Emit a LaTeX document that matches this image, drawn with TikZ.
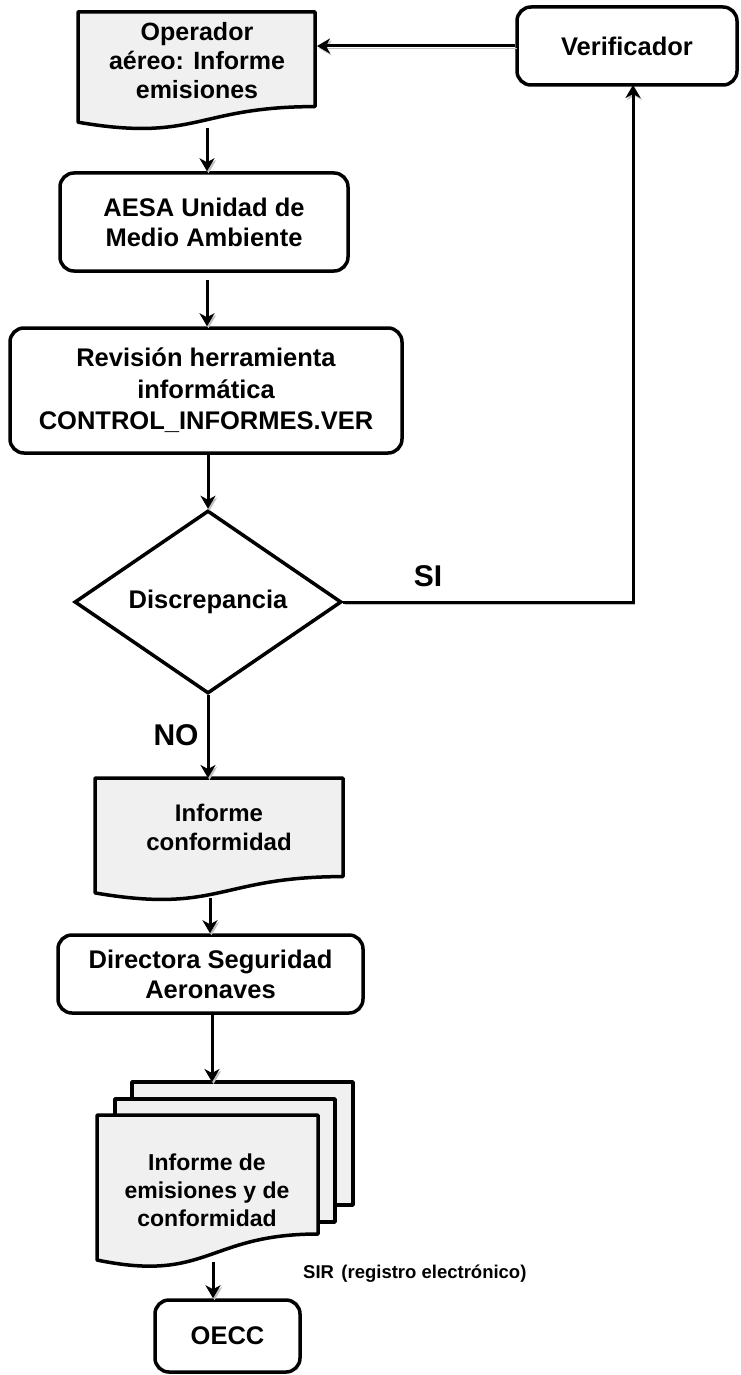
\documentclass[tikz,border=0pt]{standalone}
\usepackage{fontspec}
\setmainfont{Liberation Sans}
\usetikzlibrary{shapes.geometric,arrows.meta}
\definecolor{docgray}{RGB}{240,240,240}
\begin{document}
\begin{tikzpicture}[x=1pt,y=-1pt,
  box/.style={draw, line width=3.5pt, rounded corners=14pt, align=center, inner sep=0pt, font=\bfseries\fontsize{25.5}{30}\selectfont},
  docshape/.style={draw, line width=3.5pt, fill=docgray, line join=round},
  txt/.style={align=center, inner sep=0pt, font=\bfseries\fontsize{25}{29}\selectfont},
  lbl/.style={inner sep=0pt, font=\bfseries\fontsize{30}{30}\selectfont},
  arr/.style={line width=3pt, -{Stealth[length=13pt,width=15pt,inset=4pt]},
    preaction={draw=black!25, transform canvas={shift={(1.5pt,-2pt)}}}}]
\useasboundingbox (0,0) rectangle (741,1375);

% Operador aereo document
\draw[docshape] (78,12) -- (315,12) -- (315,106.6) .. controls (196.5,106.6) and (196.5,142.6) .. (78,122.2) -- cycle;
\node[txt] (op) at (197,61) {Operador\\aéreo: Informe\\emisiones};
\coordinate (opB) at (207,128);
\coordinate (opR) at (317,46);

% Verificador
\node[box, minimum width=220pt, minimum height=78pt] (ver) at (627,46) {Verificador};
\coordinate (verB) at (633,85);

% AESA
\node[box, minimum width=288pt, minimum height=98pt] (aesa) at (204,222) {AESA Unidad de\\Medio Ambiente};
\coordinate (aesaB) at (207,280);

% Revision
\node[box, minimum width=392pt, minimum height=125pt, font=\bfseries\fontsize{25.5}{31.5}\selectfont] (rev) at (206,390.5) {Revisión herramienta\\informática\\CONTROL\_INFORMES.VER};

% Discrepancia
\node[draw, diamond, line width=3.5pt, minimum width=267pt, minimum height=183pt, inner sep=0pt, font=\bfseries\fontsize{25.5}{30}\selectfont] (disc) at (208,602) {Discrepancia};

% Informe conformidad document
\draw[docshape] (95,778) -- (343,778) -- (343,876.6) .. controls (219,876.6) and (219,914.2) .. (95,892.9) -- cycle;
\node[txt, font=\bfseries\fontsize{24}{29}\selectfont] (ic) at (219,827) {Informe\\conformidad};
\coordinate (icT) at (208,778);
\coordinate (icB) at (210,898);

% Directora
\node[box, minimum width=305pt, minimum height=78pt] (dir) at (210.5,974) {Directora Seguridad\\Aeronaves};

% Multi-document
\draw[docshape] (132,1082) rectangle (353,1205);
\draw[docshape] (115,1099) rectangle (335,1222);
\draw[docshape] (97,1115) -- (318,1115) -- (318,1234) .. controls (207.5,1234) and (207.5,1283) .. (97,1260) -- cycle;
\node[txt, font=\bfseries\fontsize{23}{28}\selectfont] (multi) at (207,1190) {Informe de\\emisiones y de\\conformidad};
\coordinate (mT) at (212,1082);
\coordinate (mB) at (213,1262);

% OECC
\node[box, minimum width=145pt, minimum height=72pt] (oecc) at (227.5,1336) {OECC};

% connectors
\draw[arr] (ver.west) -- (opR);
\draw[arr] (opB) -- (aesa.north -| opB);
\draw[arr] (aesaB) -- (rev.north -| aesaB);
\draw[arr] (rev.south -| disc.north) -- (disc.north);
\draw[arr] (disc.south) -- (icT);
\draw[arr] (disc.east) -| (verB);
\draw[arr] (icB) -- (dir.north -| icB);
\draw[arr] (dir.south -| mT) -- (mT);
\draw[arr] (mB) -- (oecc.north -| mB);

% labels
\node[lbl] (si) at (428,576) {SI};
\node[lbl] (no) at (176,735) {NO};
\node[anchor=west, inner sep=0pt, font=\bfseries\fontsize{18.5}{20}\selectfont] (sir) at (303,1274) {SIR\hspace{0.4em}(registro electrónico)};
\end{tikzpicture}
\end{document}
